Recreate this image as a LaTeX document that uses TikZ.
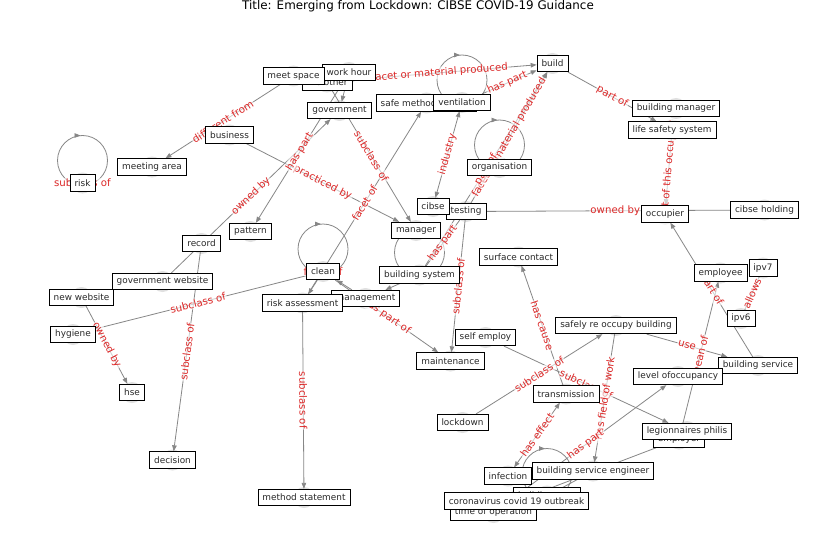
\documentclass[tikz,border=0pt]{standalone}
\usepackage{fontspec}
\setmainfont{DejaVu Sans}
\usetikzlibrary{arrows.meta,calc}
\pgfdeclarelayer{circ}
\pgfdeclarelayer{edges}
\pgfdeclarelayer{labs}
\pgfsetlayers{circ,edges,labs,main}
\definecolor{lred}{RGB}{220,40,40}
\definecolor{egray}{RGB}{135,135,135}
\definecolor{txt}{RGB}{40,40,40}
\tikzset{
 box/.style={draw=black, line width=0.8pt, fill=white, text=txt, font=\fontsize{8.9}{10}\selectfont, inner xsep=4.5pt, inner ysep=0pt, minimum height=16.5pt},
 edg/.style={draw=egray, line width=0.8pt},
 arr/.style={->, >={Triangle[length=6pt,width=4.5pt]}},
 arrtwo/.style={<->, >={Triangle[length=6pt,width=4.5pt]}},
 lab/.style={text=lred, font=\fontsize{10.2}{11}\selectfont, sloped, inner sep=1pt, fill=white, fill opacity=0.6, text opacity=1},
}
\newcommand\mknode[3]{\node[box] (#1) at (#2) {#3};%
 \begin{pgfonlayer}{circ}\fill[black!12] (#1.center) circle[radius=10.5pt];\end{pgfonlayer}}
\newcommand\elink[4][]{%
 \begin{pgfonlayer}{edges}\draw[edg,#1] (#2) -- (#3);\end{pgfonlayer}%
 \begin{pgfonlayer}{labs}\path (#2.center) -- node[lab]{#4} (#3.center);\end{pgfonlayer}}
\newcommand\plink[3][]{%
 \begin{pgfonlayer}{edges}\draw[edg,#1] (#2) -- (#3);\end{pgfonlayer}}
\newcommand\selfloop[2]{%
 \begin{pgfonlayer}{edges}\draw[edg] ([yshift=22.5pt]#1.center) circle[radius=25pt];
 \draw[edg,arr] ([xshift=-7pt,yshift=47.5pt]#1.center) -- ([xshift=-2pt,yshift=47.5pt]#1.center);\end{pgfonlayer}%
 \begin{pgfonlayer}{labs}\node[lab] at (#1.center) {#2};\end{pgfonlayer}}
\begin{document}
\begin{tikzpicture}[x=1pt,y=-1pt]
\begin{pgfonlayer}{circ}
\fill[white] (0,0) rectangle (837,559);
\end{pgfonlayer}
\useasboundingbox (0,0) rectangle (837,559);
\node[font=\fontsize{11.9}{13}\selectfont] (title) at (418,6.5) {Title: Emerging from Lockdown: CIBSE COVID-19 Guidance};
% nodes
\mknode{theother}{327,82}{the other}
\mknode{workhour}{349,72.5}{work hour}
\mknode{meetspace}{293.5,76}{meet space}
\mknode{risk}{82.5,183}{risk}
\mknode{meetingarea}{152,167}{meeting area}
\mknode{business}{229.5,135}{business}
\mknode{government}{339.5,110.5}{government}
\mknode{safemethod}{426.5,103}{safe method of work}
\mknode{ventilation}{462,102.5}{ventilation}
\mknode{build}{552.5,63.5}{build}
\mknode{buildingmanager}{676,108.5}{building manager}
\mknode{lifesafety}{672,130}{life safety system}
\mknode{organisation}{499.5,167.5}{organisation}
\mknode{testing}{466,211.5}{testing}
\mknode{cibse}{433,206.5}{cibse}
\mknode{occupier}{665,214}{occupier}
\mknode{cibseholding}{764.5,210}{cibse holding}
\mknode{record}{201.5,243.5}{record}
\mknode{pattern}{250.5,231.5}{pattern}
\mknode{manager}{416,230.5}{manager}
\mknode{govwebsite}{162.5,281.5}{government website}
\mknode{newwebsite}{81.5,297.5}{new website}
\mknode{hygiene}{73,334.5}{hygiene}
\mknode{hse}{132,392.5}{hse}
\mknode{decision}{172.5,460}{decision}
\mknode{clean}{323,271.5}{clean}
\mknode{buildingsystem}{419.5,275}{building system}
\mknode{management}{365.5,298.5}{management}
\mknode{riskassessment}{302.5,303}{risk assessment}
\mknode{surfacecontact}{518.5,257}{surface contact}
\mknode{employee}{720.5,273}{employee}
\mknode{ipv7}{763,268}{ipv7}
\mknode{ipv6}{741,318.5}{ipv6}
\mknode{selfemploy}{485.5,337.5}{self employ}
\mknode{maintenance}{450.5,361}{maintenance}
\mknode{safely}{616,325.5}{safely re occupy building}
\mknode{buildingservice}{758,365.5}{building service}
\mknode{levelocc}{678,376.5}{level ofoccupancy}
\mknode{transmission}{566,394}{transmission}
\mknode{lockdown}{462.5,422.5}{lockdown}
\mknode{employer}{679,439}{employer}
\mknode{legionnaires}{687,431.5}{legionnaires philis}
\mknode{infection}{508,476}{infection}
\mknode{hiddenop}{547,496}{building user}
\mknode{bse}{593,471}{building service engineer}
\mknode{timeop}{493.5,512.5}{time of operation}
\mknode{coronavirus}{516.5,501}{coronavirus covid 19 outbreak}
\mknode{methodstatement}{304,497.5}{method statement}
% edges
\elink[arr]{meetspace}{meetingarea}{different from}
\elink[arr]{business}{manager}{practiced by}
\elink[arr]{govwebsite}{government}{owned by}
\elink[arr]{workhour}{pattern}{has part}
\plink[arr]{workhour}{government}
\elink[arr]{theother}{manager}{subclass of}
\elink[arr]{riskassessment}{safemethod}{facet of}
\elink[arrtwo]{cibse}{ventilation}{industry}
\elink[arr]{theother}{build}{facet or material produced}
\elink[arr]{ventilation}{build}{has part}
\elink[arr]{testing}{build}{facet or material produced}
\elink[arr]{buildingsystem}{build}{part of}
\elink[arr]{build}{lifesafety}{part of}
\elink[arr]{lifesafety}{occupier}{part of this occupier}
\elink{testing}{cibseholding}{owned by}
\elink[arr]{buildingservice}{occupier}{part of}
\elink{ipv6}{ipv7}{allows}
\elink[arr]{safely}{buildingservice}{use}
\elink[arr]{employer}{employee}{mean of}
\elink[arr]{transmission}{surfacecontact}{has cause}
\elink[arr]{selfemploy}{legionnaires}{subclass of}
\elink[arr]{lockdown}{safely}{subclass of}
\elink[arr]{safely}{bse}{has field of work}
\elink[arrtwo]{infection}{transmission}{has effect}
\elink[arr]{timeop}{levelocc}{has part}
\elink[arr]{employer}{coronavirus}{use}
\plink[arr]{clean}{riskassessment}
\plink[arr]{management}{clean}
\plink[arr]{buildingsystem}{management}
\elink[arr]{clean}{maintenance}{has part of}
\elink[arr]{riskassessment}{methodstatement}{subclass of}
\elink[arr]{testing}{maintenance}{subclass of}
\elink{hygiene}{clean}{subclass of}
\elink[arr]{newwebsite}{hse}{owned by}
\elink[arr]{record}{decision}{subclass of}
\elink{testing}{buildingsystem}{has part}
\plink{hiddenop}{bse}
% self loops
\selfloop{risk}{subclass of}
\selfloop{clean}{facet of}
\selfloop{organisation}{employee of}
\selfloop{ventilation}{has part}
\selfloop{buildingsystem}{has part}
\selfloop{hiddenop}{has part}
\end{tikzpicture}
\end{document}
